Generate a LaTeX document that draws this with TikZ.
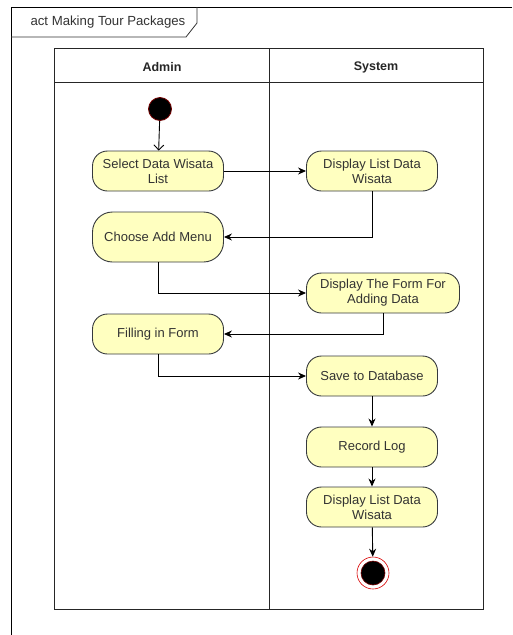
\documentclass[tikz,border=0pt]{standalone}
\usepackage{fontspec}
\setmainfont{Liberation Sans}
\definecolor{ActFill}{RGB}{255,255,192}
\definecolor{ActLine}{RGB}{54,57,61}
\definecolor{ActText}{RGB}{51,51,51}
\usetikzlibrary{arrows.meta}

\begin{document}
\begin{tikzpicture}[x=1pt,y=-1pt,
    action/.style={draw=ActLine,line width=0.9pt,fill=ActFill,rounded corners=15pt,text=ActText,
        align=center,minimum width=131pt,minimum height=40pt,inner sep=2pt,font=\fontsize{13}{15}\selectfont},
    lane/.style={draw=black!85,line width=1pt},
    flow/.style={draw=black,line width=0.9pt,-{Stealth[length=8pt,width=7pt]}},
    header/.style={font=\bfseries\fontsize{12.5}{14}\selectfont,text=black!85}]
    \useasboundingbox (0,0) rectangle (512,635);
    % frame and title tab
    \draw[line width=1pt] (512,7) -- (11,7) -- (11,635);
    \draw[line width=0.8pt,draw=black!80] (11,37) -- (186,37) -- (197,23) -- (197,7);
    \node[anchor=west,font=\fontsize{13.2}{15}\selectfont,text=ActText] (title) at (27,22) {act Making Tour Packages};
    % swimlanes
    \draw[lane] (54,48) rectangle (483,609);
    \draw[lane] (54,82) -- (483,82);
    \draw[lane] (269,48) -- (269,609);
    \node[header] (admin) at (162,67) {Admin};
    \node[header] (system) at (376,67) {System};
    % start and end
    \node[circle,fill=black,draw=red!45!black,line width=0.8pt,minimum size=23pt,inner sep=0pt] (start) at (160,109) {};
    \node[circle,draw=red!85!black,line width=0.6pt,fill=white,minimum size=32pt,inner sep=0pt] (stop) at (373,573) {};
    \node[circle,fill=black,draw=red!45!black,line width=0.6pt,minimum size=24pt,inner sep=0pt] (stopdot) at (stop.center) {};
    % actions
    \node[action] (select) at (158,171) {Select Data Wisata\\List};
    \node[action] (list) at (372,171) {Display List Data\\Wisata};
    \node[action,minimum height=50pt,rounded corners=20pt] (menu) at (158,237) {Choose Add Menu};
    \node[action,minimum width=153pt] (form) at (383,293) {Display The Form For\\Adding Data};
    \node[action] (fill) at (158,334) {Filling in Form};
    \node[action] (save) at (372,376) {Save to Database};
    \node[action] (log) at (372,447) {Record Log};
    \node[action] (listagain) at (372,507) {Display List Data\\Wisata};
    % flows
    \draw[line width=0.9pt,-{Straight Barb[length=5pt,width=10pt]}] (start) -- (select);
    \draw[flow] (select) -- (list);
    \draw[flow] (list.south) |- (menu.east);
    \draw[flow] (menu.south) |- (form.west);
    \draw[flow] (form.south) |- (fill.east);
    \draw[flow] (fill.south) |- (save.west);
    \draw[flow] (save) -- (log);
    \draw[flow] (log) -- (listagain);
    \draw[flow] (listagain) -- (stop);
  \end{tikzpicture}
\end{document}
